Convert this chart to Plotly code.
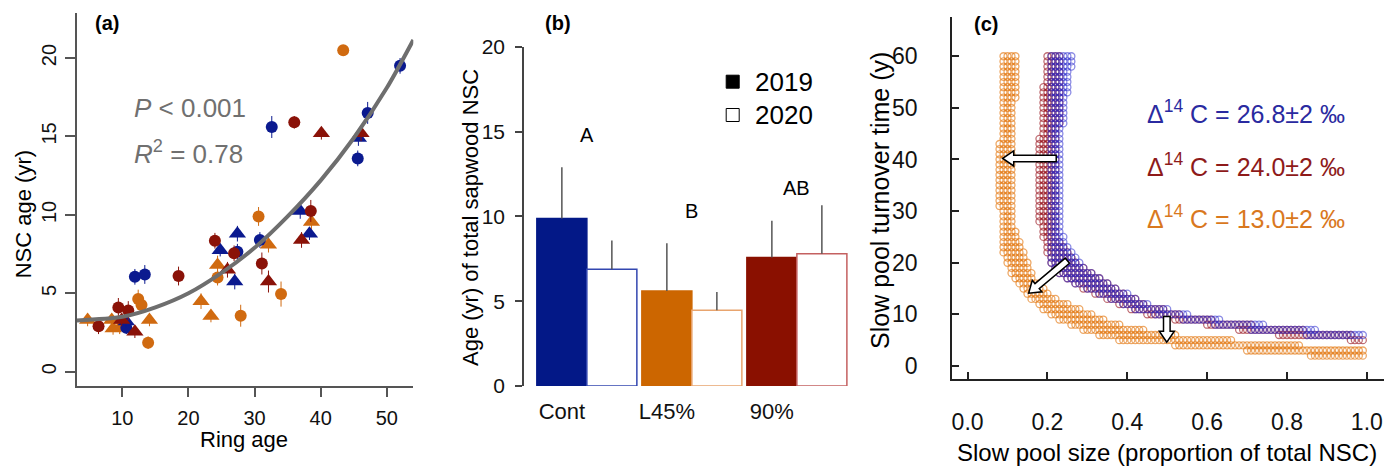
import plotly.graph_objects as go

W, H = 1397, 470
FONT = "Liberation Sans, Arial, Helvetica, sans-serif"

# ---------------- Panel (a): NSC age vs ring age ----------------
blue_circ_x = [52.0, 47.1, 45.6, 32.6, 30.8, 27.4, 11.9, 13.4, 10.6]
blue_circ_y = [19.5, 16.5, 13.6, 15.6, 8.4, 7.65, 6.05, 6.2, 2.8]
blue_circ_e = [0.5, 0.7, 0.5, 0.7, 0.5, 0.5, 0.5, 0.6, 0.4]
blue_tri_x = [27.4, 24.8, 27.0, 36.9, 38.3, 45.7, 10.6]
blue_tri_y = [8.8, 7.75, 5.75, 10.25, 8.8, 14.9, 3.2]
blue_tri_e = [0.5, 0.4, 0.5, 0.5, 0.4, 0.5, 0.4]
red_circ_x = [36.0, 38.5, 24.0, 26.9, 31.1, 18.5, 9.4, 10.9, 6.4]
red_circ_y = [15.9, 10.25, 8.35, 7.55, 6.9, 6.1, 4.1, 3.9, 2.9]
red_circ_e = [0.4, 0.7, 0.5, 0.5, 0.7, 0.6, 0.6, 0.6, 0.5]
red_tri_x = [40.1, 46.1, 37.1, 32.1, 25.9, 11.9, 9.9]
red_tri_y = [15.2, 15.2, 8.4, 5.75, 6.5, 2.55, 3.3]
red_tri_e = [0.4, 0.5, 0.5, 0.7, 0.5, 0.4, 0.4]
orange_circ_x = [43.4, 30.6, 24.4, 34.0, 27.9, 12.4, 12.9, 13.9]
orange_circ_y = [20.5, 9.9, 6.0, 4.95, 3.57, 4.63, 4.25, 1.85]
orange_circ_e = [0.3, 0.6, 0.5, 0.8, 0.7, 0.6, 0.5, 0.4]
orange_tri_x = [4.75, 8.4, 8.6, 14.1, 21.9, 23.4, 24.4, 32.1, 38.6, 9.6]
orange_tri_y = [3.3, 3.3, 2.76, 3.3, 4.5, 3.55, 6.8, 8.1, 9.55, 2.8]
orange_tri_e = [0.4, 0.4, 0.4, 0.4, 0.5, 0.4, 0.6, 0.5, 0.5, 0.4]

fit_x = [3.1, 10, 15, 20, 25, 30, 35, 40, 45, 50, 54.0]
fit_y = [3.27, 3.5, 4.1, 5.0, 6.3, 7.9, 9.9, 12.2, 14.9, 18.1, 21.15]

# ---------------- Panel (b): bars ----------------
treatments = ["Cont", "L45%", "90%"]
age_2019 = [9.88, 5.60, 7.58]
age_2020 = [6.88, 4.46, 7.80]
se_2019 = [3.01, 2.81, 2.16]
se_2020 = [1.69, 1.08, 2.85]
letters = ["A", "B", "AB"]
letter_y = [14.8, 10.3, 11.65]

# ---------------- Panel (c): slow pool bands (rows of turnover time) ----------------
orange_rows = list(range(2, 61))
orange_xmin = [0.86, 0.70, 0.52, 0.38, 0.33, 0.29, 0.26, 0.23, 0.21, 0.19, 0.18, 0.16, 0.15, 0.14,
               0.13, 0.12, 0.11, 0.11, 0.10, 0.10] + [0.09] * 9 + [0.08] * 13 + [0.09] * 17
orange_xmax = [0.99, 0.99, 0.83, 0.66, 0.52, 0.44, 0.38, 0.34, 0.31, 0.28, 0.25, 0.22, 0.20, 0.19,
               0.18, 0.16, 0.16, 0.15, 0.15, 0.14, 0.14, 0.13, 0.13, 0.12, 0.12] + [0.11] * 25 + [0.12] * 9

blue_rows = list(range(6, 61))
blue_xmin = [0.85, 0.71, 0.62, 0.54, 0.47, 0.42, 0.39, 0.36, 0.33, 0.30, 0.27, 0.25, 0.23, 0.22] + [0.21] * 41
blue_xmax = [0.99, 0.87, 0.74, 0.63, 0.55, 0.50, 0.45, 0.42, 0.40, 0.37, 0.35, 0.33, 0.31, 0.29,
             0.28, 0.27, 0.26, 0.25, 0.24, 0.24] + [0.23] * 21 + [0.24] * 6 + [0.25] * 5 + [0.26] * 3

red_rows = list(range(5, 61))
red_xmin = [0.96, 0.78, 0.68, 0.60, 0.52, 0.45, 0.41, 0.38, 0.35, 0.32, 0.29, 0.27, 0.25, 0.23,
            0.22, 0.21, 0.21, 0.20, 0.20, 0.20, 0.19, 0.19, 0.19] + [0.18] * 17 + [0.19] * 10 + [0.20] * 6
red_xmax = [0.99, 0.96, 0.84, 0.71, 0.61, 0.53, 0.49, 0.44, 0.42, 0.39, 0.37, 0.35, 0.33, 0.31,
            0.29, 0.27, 0.26, 0.25, 0.24, 0.23] + [0.22] * 22 + [0.23] * 14

d14c_labels = ["26.8", "24.0", "13.0"]

arrow_tail_x = [0.222, 0.250, 0.499]
arrow_tail_y = [40.2, 20.4, 9.6]
arrow_tip_x = [0.088, 0.153, 0.499]
arrow_tip_y = [40.2, 14.1, 4.6]

# ---------------- colours ----------------
BLUE, RED, ORANGE = "#0b1a8f", "#8a1208", "#d06a10"
bar_fill_2019 = ["#031887", "#cc6600", "#8a1000"]
bar_line_2020 = ["#3347b0", "#e8a46e", "#c46060"]
band_blue = "rgba(45,45,205,0.55)"
band_red = "rgba(150,15,25,0.6)"
band_orange = "rgba(228,122,20,0.65)"

# ---------------- geometry (pixels) ----------------
def xd(a, b):
    return [a / W, b / W]


def yd(top, bottom):
    return [1 - bottom / H, 1 - top / H]


def px(v):
    return v / W


def py(v):
    return 1 - v / H


A_X, A_Y = (76.7, 413.3), (13.3, 386.0)
B_X, B_Y = (524.0, 852.0), (46.7, 386.0)
C_X, C_Y = (952.0, 1384.0), (17.0, 378.8)
A_XR, A_YR = [3.1, 54.0], [-0.91, 22.85]
B_XR, B_YR = [-0.5986, 2.525], [0, 20]
C_XR, C_YR = [-0.039, 1.043], [-2.48, 67.6]

fig = go.Figure()

# panel (a)
groups = [
    (orange_tri_x, orange_tri_y, orange_tri_e, ORANGE, "triangle-up", 15),
    (orange_circ_x, orange_circ_y, orange_circ_e, ORANGE, "circle", 12),
    (blue_circ_x, blue_circ_y, blue_circ_e, BLUE, "circle", 12),
    (blue_tri_x, blue_tri_y, blue_tri_e, BLUE, "triangle-up", 15),
    (red_circ_x, red_circ_y, red_circ_e, RED, "circle", 12),
    (red_tri_x, red_tri_y, red_tri_e, RED, "triangle-up", 15),
]
for gx, gy, ge, col, sym, size in groups:
    fig.add_trace(go.Scatter(
        x=gx, y=gy, mode="markers", xaxis="x", yaxis="y", showlegend=False,
        marker=dict(symbol=sym, size=size, color=col, line=dict(width=0)),
        error_y=dict(type="data", array=ge, thickness=1, width=0, color=col),
    ))
fig.add_trace(go.Scatter(
    x=fit_x, y=fit_y, mode="lines", xaxis="x", yaxis="y", showlegend=False,
    line=dict(color="#6e6e6e", width=4, shape="spline", smoothing=0.8),
))

# panel (b)
fig.add_trace(go.Bar(
    x=treatments, y=age_2019, xaxis="x2", yaxis="y2", showlegend=False,
    marker=dict(color=bar_fill_2019, line=dict(color=bar_fill_2019, width=1.5)),
    error_y=dict(type="data", array=se_2019, arrayminus=[0] * 3, symmetric=False,
                 color="#555555", thickness=1.5, width=0),
))
fig.add_trace(go.Bar(
    x=treatments, y=age_2020, xaxis="x2", yaxis="y2", showlegend=False,
    marker=dict(color="white", line=dict(color=bar_line_2020, width=1.5)),
    error_y=dict(type="data", array=se_2020, arrayminus=[0] * 3, symmetric=False,
                 color="#555555", thickness=1.5, width=0),
))


# panel (c)
def band_points(rows, xmin, xmax):
    xs, ys = [], []
    for yv, a, b in zip(rows, xmin, xmax):
        n = int(round((b - a) / 0.01)) + 1
        for k in range(n):
            xs.append(round(a + 0.01 * k, 2))
            ys.append(yv)
    return xs, ys


for rows, mn, mx, col in [(red_rows, red_xmin, red_xmax, band_red),
                          (blue_rows, blue_xmin, blue_xmax, band_blue),
                          (orange_rows, orange_xmin, orange_xmax, band_orange)]:
    bx, by = band_points(rows, mn, mx)
    fig.add_trace(go.Scatter(
        x=bx, y=by, mode="markers", xaxis="x3", yaxis="y3", showlegend=False,
        marker=dict(symbol="circle-open", size=7, color=col, line=dict(width=1.3, color=col)),
    ))

# block arrows (pixel-sized shapes anchored on their tips)
sx = (C_X[1] - C_X[0]) / (C_XR[1] - C_XR[0])
sy = (C_Y[1] - C_Y[0]) / (C_YR[1] - C_YR[0])
shapes = []
for tx, ty, hx, hy in zip(arrow_tail_x, arrow_tail_y, arrow_tip_x, arrow_tip_y):
    dx, dy = (tx - hx) * sx, (ty - hy) * sy
    L = (dx * dx + dy * dy) ** 0.5
    ux, uy = dx / L, dy / L
    nx, ny = -uy, ux
    hl, hw, sw = 11.0, 7.5, 3.3
    pts = [(0, 0),
           (ux * hl + nx * hw, uy * hl + ny * hw),
           (ux * hl + nx * sw, uy * hl + ny * sw),
           (ux * L + nx * sw, uy * L + ny * sw),
           (ux * L - nx * sw, uy * L - ny * sw),
           (ux * hl - nx * sw, uy * hl - ny * sw),
           (ux * hl - nx * hw, uy * hl - ny * hw)]
    path = "M " + " L ".join(f"{p[0]:.2f},{p[1]:.2f}" for p in pts) + " Z"
    shapes.append(dict(type="path", xref="x3", yref="y3", xsizemode="pixel", ysizemode="pixel",
                       xanchor=hx, yanchor=hy, path=path, fillcolor="white",
                       line=dict(color="black", width=1.5), layer="above"))

# legend squares of panel (b)
shapes.append(dict(type="rect", xref="paper", yref="paper", x0=px(726.2), x1=px(739.2),
                   y0=py(88.2), y1=py(75.2), fillcolor="black", line=dict(color="black", width=1)))
shapes.append(dict(type="rect", xref="paper", yref="paper", x0=px(726.2), x1=px(739.2),
                   y0=py(121.5), y1=py(108.5), fillcolor="white", line=dict(color="black", width=1)))

ann = []


def text(x, y, s, size, color="black", xanchor="center", angle=0, bold=False):
    ann.append(dict(x=px(x), y=py(y), xref="paper", yref="paper", text=("<b>%s</b>" % s) if bold else s,
                    showarrow=False, xanchor=xanchor, yanchor="middle", textangle=angle,
                    font=dict(family=FONT, size=size, color=color)))


text(106.7, 23.3, "(a)", 20, bold=True)
text(558, 23, "(b)", 20, bold=True)
text(986, 24, "(c)", 20, bold=True)
text(23.3, 214, "NSC age (yr)", 22, angle=-90)
text(244, 439, "Ring age", 22)
text(131.7, 107.7, "<i>P</i> < 0.001", 26, color="#707070", xanchor="left")
text(131.7, 152.7, "<i>R</i><sup>2</sup> = 0.78", 26, color="#707070", xanchor="left")
text(470, 217, "Age (yr) of total sapwood NSC", 22, angle=-90)
text(753, 81.7, "2019", 26, xanchor="left")
text(753, 115, "2020", 26, xanchor="left")
text(880, 201, "Slow pool turnover time (y)", 25, angle=-90)
text(1167, 452, "Slow pool size (proportion of total NSC)", 24)
for lab, yy, col in zip(d14c_labels, [112, 165, 217], ["#2a2aa0", "#8e1a1a", "#d9781e"]):
    text(1145, yy, "\u0394<sup>14</sup> C = %s\u00b12 \u2030" % lab, 25, color=col, xanchor="left")

for t, lt, ly in zip(treatments, letters, letter_y):
    ann.append(dict(x=t, y=ly, xref="x2", yref="y2", text=lt, showarrow=False,
                    font=dict(family=FONT, size=20, color="black")))

tick_font = dict(family=FONT, color="#111111")
common = dict(showgrid=False, zeroline=False, automargin=False)
fig.update_layout(
    width=W, height=H, margin=dict(l=0, r=0, t=0, b=0, autoexpand=False),
    paper_bgcolor="white", plot_bgcolor="white",
    font=dict(family=FONT, color="black"),
    barmode="group", bargap=0.0476, bargroupgap=0,
    shapes=shapes, annotations=ann,
    xaxis=dict(domain=xd(*A_X), range=A_XR, anchor="y", tickvals=[10, 20, 30, 40, 50],
               ticks="outside", ticklen=9, tickwidth=1.5, tickcolor="#555", showline=True,
               linecolor="#555", linewidth=2,
               tickfont=dict(size=20, **tick_font), ticklabelstandoff=4, **common),
    yaxis=dict(domain=yd(*A_Y), range=A_YR, anchor="x", tickvals=[0, 5, 10, 15, 20],
               ticks="outside", ticklen=10, tickwidth=1.5, tickcolor="#555", showline=True,
               linecolor="#555", linewidth=2, tickangle=-90,
               tickfont=dict(size=20, **tick_font), ticklabelstandoff=1, **common),
    xaxis2=dict(domain=xd(*B_X), range=B_XR, anchor="y2", type="category",
                categoryorder="array", categoryarray=treatments, showline=False, ticks="",
                tickfont=dict(size=22, **tick_font),
                ticklabelshift=-25, ticklabelstandoff=10, **common),
    yaxis2=dict(domain=yd(*B_Y), range=B_YR, anchor="x2", tickvals=[0, 5, 10, 15, 20],
                ticks="outside", ticklen=7, tickwidth=1.5, tickcolor="#444", showline=True,
                linecolor="#444", linewidth=1.5,
                tickfont=dict(size=21, **tick_font), ticklabelstandoff=6, **common),
    xaxis3=dict(domain=xd(*C_X), range=C_XR, anchor="y3", tickvals=[0, 0.2, 0.4, 0.6, 0.8, 1.0],
                ticktext=["0.0", "0.2", "0.4", "0.6", "0.8", "1.0"],
                ticks="inside", ticklen=7, tickwidth=1.5, tickcolor="#222", showline=True,
                linecolor="#222", linewidth=1.5,
                tickfont=dict(size=23, **tick_font), ticklabelstandoff=22, **common),
    yaxis3=dict(domain=yd(*C_Y), range=C_YR, anchor="x3", tickvals=[0, 10, 20, 30, 40, 50, 60],
                ticks="inside", ticklen=7, tickwidth=1.5, tickcolor="#222", showline=True,
                linecolor="#222", linewidth=1.5,
                tickfont=dict(size=23, **tick_font), ticklabelstandoff=28, **common),
)

fig.write_html("out.html")
